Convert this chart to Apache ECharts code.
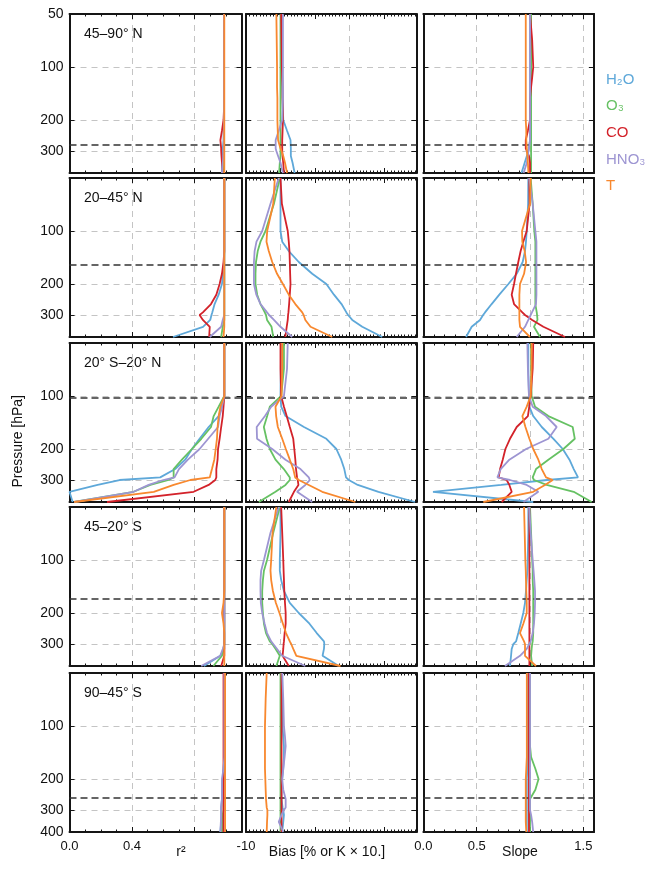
<!DOCTYPE html>
<html>
<head>
<meta charset="utf-8">
<script src="https://cdn.jsdelivr.net/npm/echarts@6/dist/echarts.min.js"></script>
<style>
  html, body { margin: 0; padding: 0; background: #fff; }
  #chart { width: 646px; height: 870px; }
</style>
</head>
<body>
<div id="chart"></div>
<script>
// Pressure levels (hPa) at which every profile is given
const pressureLevels = [50, 70, 100, 115, 130, 150, 175, 200, 230, 260, 290, 300, 320, 350, 400];

const speciesKeys   = ['H2O', 'O3', 'CO', 'HNO3', 'T'];
const speciesLabels = ['H₂O', 'O₃', 'CO', 'HNO₃', 'T'];
const speciesColors = ['#5ea8d9', '#66c163', '#d3222a', '#9d95d2', '#f8882e'];

const regionNames = ['45–90° N', '20–45° N', '20° S–20° N', '45–20° S', '90–45° S'];
// Tropopause pressure (hPa) per latitude band
const tropopause = [273, 156, 103, 165, 257];

const columnTitles = ['r²', 'Bias [% or K × 10.]', 'Slope'];
const pressureTicks = [100, 200, 300];
const pressureLabelsTop = [50, 100, 200, 300];
const pressureLabelsMid = [100, 200, 300];
const pressureLabelsBottom = [100, 200, 300, 400];
// Bottom-row tick labels per column (the rest of the row is taken by the axis titles)
const r2TickLabels = [0, 0.4];
const biasTickLabels = [-10];
const slopeTickLabels = [0, 0.5, 1.5];

// ---- 45–90° N ----
const r2_n4590 = {
  H2O:  [0.988, 0.988, 0.988, 0.988, 0.988, 0.988, 0.988, 0.988, 0.985, 0.985, 0.98, 0.978, 0.975, 0.975, 0.975],
  O3:   [0.988, 0.988, 0.988, 0.988, 0.988, 0.988, 0.988, 0.988, 0.988, 0.988, 0.988, 0.988, 0.988, 0.987, 0.985],
  CO:   [0.988, 0.988, 0.988, 0.988, 0.988, 0.988, 0.988, 0.985, 0.975, 0.965, 0.97, 0.97, 0.972, 0.975, 0.98],
  HNO3: [0.988, 0.988, 0.988, 0.988, 0.988, 0.988, 0.988, 0.988, 0.988, 0.988, 0.987, 0.986, 0.985, 0.98, 0.975],
  T:    [0.99, 0.99, 0.99, 0.99, 0.99, 0.99, 0.99, 0.99, 0.99, 0.99, 0.99, 0.99, 0.99, 0.99, 0.99]
};
const bias_n4590 = {
  H2O:  [0.5, 0.5, 0.5, 0.5, 0.5, 0.6, 0.7, 0.8, 1.9, 2.9, 3.0, 3.0, 3.0, 3.5, 4.1],
  O3:   [0, 0, 0, 0, 0, 0, 0, 0, 0, 0, 0, 0, 0, -0.2, -0.4],
  CO:   [0.2, 0.3, 0.4, 0.5, 0.6, 0.6, 0.7, 0.7, 0.6, 0.5, 0.5, 0.5, 0.6, 0.8, 1.0],
  HNO3: [0.7, 0.7, 0.7, 0.7, 0.7, 0.7, 0.6, 0.5, -0.5, -1.4, -1.4, -1.2, -0.7, 0, 0.7],
  T:    [-1.2, -1.1, -1.0, -1.0, -1.0, -0.9, -0.9, -0.9, -0.8, -0.7, 0, 0.3, 0.8, 1.3, 1.9]
};
const slope_n4590 = {
  H2O:  [1.0, 1.0, 1.0, 1.0, 1.0, 1.0, 1.0, 1.0, 1.0, 1.0, 0.99, 0.985, 0.97, 0.95, 0.92],
  O3:   [1.01, 1.01, 1.01, 1.01, 1.01, 1.01, 1.01, 1.01, 1.01, 1.01, 1.01, 1.01, 1.01, 1.01, 1.01],
  CO:   [1.0, 1.02, 1.03, 1.02, 1.01, 1.0, 1.0, 1.0, 0.98, 0.96, 0.96, 0.97, 0.99, 1.0, 1.0],
  HNO3: [1.0, 1.0, 1.0, 1.0, 1.0, 1.0, 1.0, 1.0, 1.0, 1.0, 0.99, 0.985, 0.98, 0.97, 0.94],
  T:    [0.96, 0.96, 0.96, 0.96, 0.96, 0.96, 0.96, 0.96, 0.965, 0.965, 0.97, 0.97, 0.975, 0.98, 0.985]
};

// ---- 20–45° N ----
const r2_n2045 = {
  H2O:  [0.99, 0.99, 0.99, 0.99, 0.99, 0.988, 0.982, 0.975, 0.954, 0.928, 0.913, 0.908, 0.9, 0.854, 0.662],
  O3:   [0.99, 0.99, 0.99, 0.99, 0.99, 0.99, 0.99, 0.99, 0.99, 0.99, 0.99, 0.99, 0.99, 0.98, 0.97],
  CO:   [0.99, 0.99, 0.99, 0.99, 0.99, 0.985, 0.975, 0.96, 0.939, 0.905, 0.853, 0.832, 0.853, 0.897, 0.893],
  HNO3: [0.99, 0.99, 0.99, 0.99, 0.99, 0.99, 0.99, 0.99, 0.99, 0.99, 0.99, 0.99, 0.98, 0.97, 0.897],
  T:    [0.99, 0.99, 0.99, 0.99, 0.99, 0.99, 0.99, 0.99, 0.99, 0.99, 0.99, 0.99, 0.99, 0.99, 0.985]
};
const bias_n2045 = {
  H2O:  [0, 0, 0, 0.5, 2.4, 5.3, 9.2, 13.3, 15.5, 17.7, 19.1, 19.6, 20.8, 23.7, 29.5],
  O3:   [-0.2, -1.9, -4.35, -5.8, -6.6, -7.1, -7.25, -7.25, -6.76, -5.8, -4.55, -4.2, -3.9, -2.6, -2.1],
  CO:   [0, 0.4, 2.1, 2.4, 2.6, 2.7, 2.8, 2.9, 2.7, 2.5, 2.3, 2.2, 2.1, 1.8, 1.4],
  HNO3: [-0.5, -2.9, -5.3, -6.96, -7.5, -7.7, -7.7, -7.7, -7.0, -5.8, -3.9, -3.3, -1.9, 0, 3.4],
  T:    [-1.64, -2.1, -3.86, -4.06, -3.4, -2.4, -1.0, 0.7, 2.4, 4.3, 6.3, 6.7, 7.2, 8.7, 15.0]
};
const slope_n2045 = {
  H2O:  [0.984, 0.982, 0.969, 0.962, 0.953, 0.931, 0.875, 0.797, 0.712, 0.64, 0.578, 0.56, 0.531, 0.453, 0.4],
  O3:   [1.006, 1.025, 1.04, 1.05, 1.05, 1.05, 1.05, 1.05, 1.05, 1.05, 1.063, 1.066, 1.07, 1.037, 1.094],
  CO:   [0.993, 0.996, 0.969, 0.937, 0.912, 0.89, 0.868, 0.85, 0.828, 0.85, 0.928, 0.953, 1.02, 1.125, 1.328],
  HNO3: [0.993, 1.025, 1.05, 1.06, 1.06, 1.06, 1.06, 1.06, 1.06, 1.056, 1.018, 1.006, 0.984, 0.953, 0.875],
  T:    [1.006, 1.0, 0.925, 0.928, 0.95, 0.963, 0.944, 0.906, 0.9, 0.9, 0.9, 0.9, 0.9, 0.906, 0.999]
};

// ---- 20° S–20° N ----
const r2_trop = {
  H2O:  [0.99, 0.99, 0.99, 0.975, 0.954, 0.89, 0.832, 0.783, 0.74, 0.676, 0.58, 0.32, 0.18, 0.0, 0.02],
  O3:   [0.99, 0.99, 0.99, 0.954, 0.922, 0.905, 0.843, 0.783, 0.719, 0.666, 0.666, 0.634, 0.517, 0.41, 0.03],
  CO:   [0.99, 0.99, 0.99, 0.985, 0.98, 0.97, 0.96, 0.95, 0.947, 0.939, 0.939, 0.932, 0.89, 0.794, 0.24],
  HNO3: [0.99, 0.99, 0.99, 0.975, 0.96, 0.95, 0.887, 0.832, 0.757, 0.7, 0.672, 0.6, 0.506, 0.41, 0.03],
  T:    [0.99, 0.99, 0.99, 0.965, 0.954, 0.947, 0.943, 0.935, 0.926, 0.911, 0.897, 0.773, 0.666, 0.539, 0.03]
};
const bias_trop = {
  H2O:  [0.2, 0.1, 0, 0.2, 1.45, 6.8, 13.3, 16.2, 17.6, 18.5, 19.0, 19.8, 22.4, 28.4, 39.0],
  O3:   [1.0, 1.0, 0.2, -3.1, -3.86, -4.83, -4.06, -3.1, -1.45, 0.97, 2.7, 2.7, 1.45, -1.45, -6.28],
  CO:   [0, 0, 0.2, 1.0, 1.8, 2.7, 3.7, 4.0, 4.3, 4.5, 4.8, 5.0, 5.2, 3.9, 2.4],
  HNO3: [2.1, 1.9, 1.0, -2.7, -4.5, -6.9, -6.8, -2.4, 1.45, 5.8, 8.2, 8.5, 7.2, 4.8, 9.2],
  T:    [0.5, 0.5, 0.3, -1.45, -1.26, -0.77, 0.5, 1.55, 2.7, 3.7, 4.25, 5.3, 8.2, 12.1, 21.7]
};
const slope_trop = {
  H2O:  [0.984, 0.984, 0.99, 0.994, 1.03, 1.11, 1.22, 1.307, 1.37, 1.41, 1.45, 1.16, 0.73, 0.09, 1.03],
  O3:   [1.01, 1.01, 1.015, 1.047, 1.172, 1.4, 1.42, 1.313, 1.172, 1.056, 1.025, 1.037, 1.156, 1.41, 1.578],
  CO:   [1.03, 1.025, 1.006, 0.993, 0.98, 0.875, 0.812, 0.769, 0.744, 0.719, 0.706, 0.781, 0.806, 0.828, 0.734],
  HNO3: [0.975, 0.98, 0.99, 1.025, 1.15, 1.25, 1.172, 0.963, 0.806, 0.725, 0.694, 0.812, 0.969, 1.078, 0.938],
  T:    [1.015, 1.015, 1.006, 0.969, 0.928, 0.957, 0.994, 1.03, 1.078, 1.11, 1.15, 1.213, 1.14, 1.03, 0.562]
};

// ---- 45–20° S ----
const r2_s4520 = {
  H2O:  [0.99, 0.99, 0.99, 0.99, 0.99, 0.99, 0.99, 0.99, 0.99, 0.99, 0.99, 0.99, 0.99, 0.965, 0.86],
  O3:   [0.99, 0.99, 0.99, 0.99, 0.99, 0.99, 0.99, 0.99, 0.99, 0.99, 0.99, 0.99, 0.985, 0.975, 0.92],
  CO:   [0.99, 0.99, 0.99, 0.99, 0.99, 0.99, 0.99, 0.99, 0.99, 0.99, 0.99, 0.99, 0.99, 0.99, 0.97],
  HNO3: [0.99, 0.99, 0.99, 0.99, 0.99, 0.99, 0.99, 0.99, 0.99, 0.99, 0.99, 0.99, 0.98, 0.964, 0.842],
  T:    [0.99, 0.99, 0.99, 0.99, 0.99, 0.99, 0.985, 0.975, 0.985, 0.99, 0.99, 0.99, 0.99, 0.99, 0.99]
};
const bias_s4520 = {
  H2O:  [0, 0, -0.2, -0.2, 0.2, 1.0, 2.7, 5.3, 8.4, 10.5, 12.6, 12.7, 12.6, 12.2, 16.9],
  O3:   [-0.2, -2.1, -3.9, -4.8, -5.1, -5.3, -5.3, -5.1, -4.8, -4.2, -3.1, -2.4, -1.4, -0.2, -1.2],
  CO:   [0.2, 0.5, 0.8, 0.9, 1.0, 1.1, 1.3, 1.5, 1.5, 1.2, 1.0, 0.9, 0.8, 0.6, 2.4],
  HNO3: [-0.5, -2.9, -4.8, -5.6, -5.8, -5.8, -5.7, -5.3, -4.6, -3.9, -2.7, -2.1, -1.0, 0.5, 7.2],
  T:    [-1.2, -2.3, -2.7, -2.9, -2.7, -2.2, -1.35, -0.3, 0.7, 1.6, 2.7, 3.1, 3.7, 4.6, 17.4]
};
const slope_s4520 = {
  H2O:  [0.984, 0.984, 0.978, 0.975, 0.969, 0.962, 0.953, 0.937, 0.912, 0.89, 0.869, 0.844, 0.828, 0.822, 0.812],
  O3:   [1.0, 1.01, 1.02, 1.025, 1.025, 1.03, 1.03, 1.03, 1.03, 1.03, 1.025, 1.02, 1.015, 1.01, 1.02],
  CO:   [0.994, 0.994, 0.994, 0.994, 0.994, 0.994, 0.994, 0.994, 0.994, 0.994, 0.994, 0.994, 0.994, 0.994, 0.994],
  HNO3: [0.993, 1.006, 1.025, 1.033, 1.04, 1.047, 1.047, 1.044, 1.037, 1.025, 1.006, 0.993, 0.969, 0.906, 0.765],
  T:    [0.944, 0.95, 0.956, 0.96, 0.962, 0.965, 0.969, 0.969, 0.937, 0.906, 0.944, 0.953, 0.953, 0.953, 1.056]
};

// ---- 90–45° S ----
const r2_s9045 = {
  H2O:  [0.99, 0.99, 0.99, 0.99, 0.99, 0.99, 0.985, 0.98, 0.975, 0.975, 0.97, 0.97, 0.97, 0.97, 0.965],
  O3:   [0.99, 0.99, 0.99, 0.99, 0.99, 0.99, 0.99, 0.985, 0.985, 0.985, 0.985, 0.985, 0.98, 0.98, 0.975],
  CO:   [0.985, 0.985, 0.985, 0.985, 0.985, 0.985, 0.985, 0.985, 0.985, 0.985, 0.985, 0.985, 0.985, 0.985, 0.985],
  HNO3: [0.99, 0.99, 0.99, 0.99, 0.99, 0.99, 0.985, 0.975, 0.975, 0.975, 0.97, 0.97, 0.97, 0.968, 0.965],
  T:    [0.995, 0.995, 0.995, 0.995, 0.995, 0.995, 0.995, 0.995, 0.995, 0.995, 0.995, 0.995, 0.995, 0.995, 0.995]
};
const bias_s9045 = {
  H2O:  [0.5, 0.5, 0.6, 0.8, 1.0, 1.0, 0.8, 0.5, 0.3, 0.3, 0.6, 0.8, 1.0, 0.8, 0.5],
  O3:   [0, 0, 0, 0, 0, 0, 0, 0, 0, 0, 0, 0, 0, 0, 0],
  CO:   [0.3, 0.3, 0.3, 0.3, 0.3, 0.3, 0.3, 0.3, 0.3, 0.3, 0.3, 0.3, 0.3, 0.3, 0.3],
  HNO3: [0.5, 0.8, 1.0, 1.3, 1.5, 1.2, 0.8, 0.5, 0.8, 1.5, 1.5, 1.0, 0.3, -0.5, 0.8],
  T:    [-4.0, -4.3, -4.5, -4.5, -4.5, -4.5, -4.5, -4.4, -4.3, -4.2, -4.0, -3.8, -3.8, -3.9, -4.0]
};
const slope_s9045 = {
  H2O:  [0.98, 0.98, 0.98, 0.98, 0.98, 0.98, 0.975, 0.97, 0.97, 0.97, 0.97, 0.97, 0.97, 0.97, 0.97],
  O3:   [1.0, 1.0, 1.0, 1.0, 1.0, 1.01, 1.05, 1.08, 1.05, 1.0, 1.0, 1.0, 1.0, 1.0, 1.0],
  CO:   [0.99, 0.99, 0.99, 0.99, 0.99, 0.99, 0.99, 0.99, 0.99, 0.99, 0.99, 0.99, 0.99, 0.99, 0.99],
  HNO3: [1.0, 1.0, 1.0, 1.0, 1.0, 1.0, 1.0, 1.0, 1.0, 1.0, 1.0, 1.0, 1.01, 1.02, 1.03],
  T:    [0.97, 0.97, 0.97, 0.97, 0.97, 0.97, 0.965, 0.96, 0.96, 0.96, 0.96, 0.96, 0.96, 0.96, 0.965]
};

const panelRows = [
  [r2_n4590, bias_n4590, slope_n4590],
  [r2_n2045, bias_n2045, slope_n2045],
  [r2_trop,  bias_trop,  slope_trop],
  [r2_s4520, bias_s4520, slope_s4520],
  [r2_s9045, bias_s9045, slope_s9045]
];

// ---- layout ----
const FONT = '"Liberation Sans", Arial, Helvetica, sans-serif';
const rowTops = [14, 178, 343, 507, 673];
const rowH = 159;
const colLeft = [69.5, 246, 423.4];
const colW = [172, 170.4, 170.6];
const xSpecs = [
  { min: 0,   max: 1.1,  interval: 0.4, minor: 4,  labels: r2TickLabels,    fmt: v => v.toFixed(1) },
  { min: -10, max: 39.4, interval: 10,  minor: 10, labels: biasTickLabels,  fmt: v => String(Math.round(v)) },
  { min: 0,   max: 1.6,  interval: 0.5, minor: 5,  labels: slopeTickLabels, fmt: v => v.toFixed(1) }
];
const lp = p => Math.log10(p);
const gridGray = '#c4c4c4';
const frame = '#151515';

const grids = [], xAxes = [], yAxes = [], series = [];

panelRows.forEach((row, r) => {
  row.forEach((panel, c) => {
    const gi = grids.length;
    grids.push({ left: colLeft[c], top: rowTops[r], width: colW[c], height: rowH, containLabel: false });
    const xs = xSpecs[c];
    const isBottom = r === panelRows.length - 1;
    const xBase = {
      type: 'value', gridIndex: gi, min: xs.min, max: xs.max, interval: xs.interval,
      axisLine: { show: true, onZero: false, lineStyle: { color: frame, width: 2 } },
      axisTick: { show: true, inside: true, length: 5, lineStyle: { color: frame, width: 1 } },
      minorTick: { show: true, splitNumber: xs.minor, length: 2.5, lineStyle: { color: frame, width: 1 } },
      minorSplitLine: { show: false }
    };
    const xi = xAxes.length;
    xAxes.push(Object.assign({}, xBase, {
      position: 'bottom',
      axisLabel: { show: isBottom, customValues: xs.labels, formatter: xs.fmt, fontFamily: FONT, fontSize: 13,
                   color: '#111', margin: 8 },
      splitLine: { show: true, lineStyle: { color: c === 1 ? ['rgba(0,0,0,0)', gridGray] : gridGray, type: [6, 5], width: 1 } }
    }));
    xAxes.push(Object.assign({}, xBase, {
      position: 'top', axisLabel: { show: false }, splitLine: { show: false }
    }));

    const labels = r === 0 ? pressureLabelsTop : (isBottom ? pressureLabelsBottom : pressureLabelsMid);
    const yBase = {
      type: 'value', gridIndex: gi, inverse: true, min: lp(50), max: lp(400),
      axisLine: { show: true, onZero: false, lineStyle: { color: frame, width: 2 } },
      axisTick: { show: true, inside: true, length: 5, customValues: pressureTicks.map(lp), lineStyle: { color: frame, width: 1 } }
    };
    const yi = yAxes.length;
    yAxes.push(Object.assign({}, yBase, {
      position: 'left',
      axisLabel: { show: c === 0, customValues: labels.map(lp), formatter: v => String(Math.round(Math.pow(10, v))),
                   fontFamily: FONT, fontSize: 14, color: '#111', margin: 6 },
      splitLine: { show: true, lineStyle: { color: gridGray, type: [6, 5], width: 1 } }
    }));
    yAxes.push(Object.assign({}, yBase, {
      position: 'right', axisLabel: { show: false }, splitLine: { show: false }
    }));

    speciesKeys.forEach((key, s) => {
      const values = panel[key];
      const item = {
        type: 'line', xAxisIndex: xi, yAxisIndex: yi,
        data: pressureLevels.map((p, i) => [values[i], lp(p)]),
        showSymbol: false, symbol: 'none', silent: true, animation: false,
        lineStyle: { color: speciesColors[s], width: 1.8 },
        z: 3 + s
      };
      if (s === 0) {
        item.markLine = {
          symbol: 'none', silent: true, animation: false, label: { show: false },
          lineStyle: { color: '#333', type: [7, 4], width: 1.5 },
          data: [{ yAxis: lp(tropopause[r]) }]
        };
      }
      series.push(item);
    });
  });
});

const graphics = [];
regionNames.forEach((name, r) => {
  graphics.push({ type: 'text', left: 84, top: rowTops[r] + 13,
    style: { text: name, font: '14px ' + FONT, fill: '#111' } });
});
speciesLabels.forEach((lab, s) => {
  graphics.push({ type: 'text', left: 606, top: 72 + s * 26.7,
    style: { text: lab, font: '15px ' + FONT, fill: speciesColors[s] } });
});
graphics.push({ type: 'text', left: 11, top: 395, rotation: Math.PI / 2,
  style: { text: 'Pressure [hPa]', font: '14px ' + FONT, fill: '#111' } });
// Axis titles, centred on their x positions
const titleX = [181, 327, 520];
columnTitles.forEach((t, c) => {
  graphics.push({ type: 'text', x: titleX[c], y: 852,
    style: { text: t, font: '14px ' + FONT, fill: '#111', align: 'center', verticalAlign: 'middle' } });
});

const chart = echarts.init(document.getElementById('chart'), null, { renderer: 'canvas', width: 646, height: 870 });
chart.setOption({
  animation: false,
  backgroundColor: '#fff',
  grid: grids,
  xAxis: xAxes,
  yAxis: yAxes,
  series: series,
  graphic: graphics
});
</script>
</body>
</html>
